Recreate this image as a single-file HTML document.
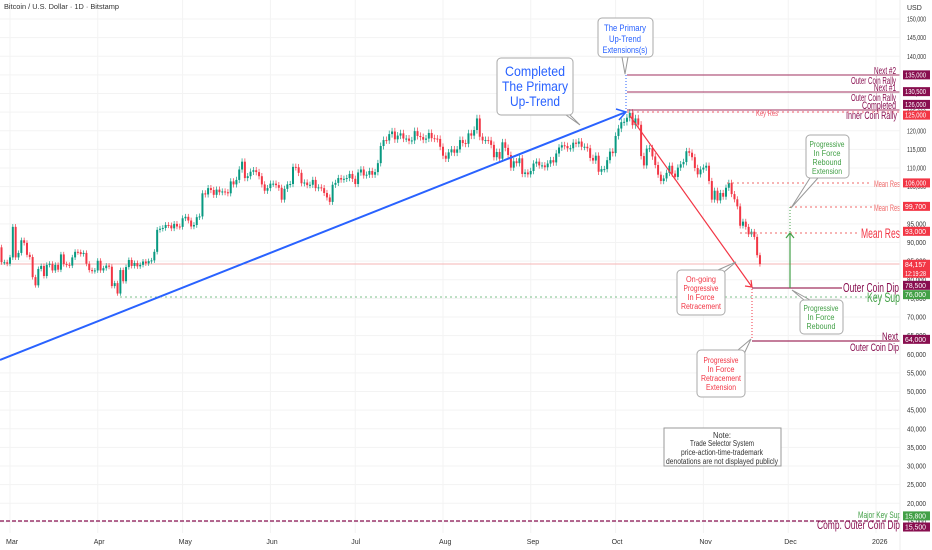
<!DOCTYPE html>
<html><head><meta charset="utf-8">
<style>
html,body{margin:0;padding:0;background:#fff;}
svg{display:block;font-family:"Liberation Sans",sans-serif;}
.ax{font-size:7px;fill:#333;}
.bx{font-size:7px;fill:#fff;}
</style></head>
<body>
<svg id="chart" width="932" height="550" viewBox="0 0 932 550" xmlns="http://www.w3.org/2000/svg">
<rect width="932" height="550" fill="#fff"/>
<g id="grid"></g>
<line x1="0" y1="264" x2="900" y2="264" stroke="#f5b5b5" stroke-width="1"/>
<line x1="120" y1="297" x2="900" y2="297" stroke="#7cc08a" stroke-width="1" stroke-dasharray="2,3"/>
<line x1="0" y1="521" x2="900" y2="521" stroke="#880e4f" stroke-width="1.2" stroke-dasharray="4,2"/>
<g id="candles"></g>

<g stroke-width="1">
<line x1="627" y1="75" x2="900" y2="75" stroke="#a0305f"/>
<line x1="627" y1="92" x2="900" y2="92" stroke="#a0305f"/>
<line x1="627" y1="110" x2="900" y2="110" stroke="#a0305f"/>
<line x1="627" y1="112" x2="900" y2="112" stroke="#ef5a6a" stroke-dasharray="2,3"/>
<line x1="727" y1="183" x2="872" y2="183" stroke="#ef6a6a" stroke-dasharray="2,3"/>
<line x1="790" y1="207" x2="872" y2="207" stroke="#ef6a6a" stroke-dasharray="2,3"/>
<line x1="740" y1="233" x2="859" y2="233" stroke="#ef6a6a" stroke-dasharray="2,3"/>
<line x1="752" y1="288" x2="842" y2="288" stroke="#a0305f" stroke-width="1.3"/>
<line x1="752" y1="341" x2="900" y2="341" stroke="#a0305f" stroke-width="1.3"/>
</g>
<g text-anchor="end" lengthAdjust="spacingAndGlyphs">
<text x="896" y="74" font-size="10" fill="#880e4f" textLength="22" lengthAdjust="spacingAndGlyphs">Next #2</text>
<text x="896" y="84" font-size="10" fill="#880e4f" textLength="45" lengthAdjust="spacingAndGlyphs">Outer Coin Rally</text>
<text x="896" y="91" font-size="10" fill="#880e4f" textLength="22" lengthAdjust="spacingAndGlyphs">Next #1</text>
<text x="896" y="101" font-size="10" fill="#880e4f" textLength="45" lengthAdjust="spacingAndGlyphs">Outer Coin Rally</text>
<text x="896" y="109" font-size="11" fill="#880e4f" textLength="34" lengthAdjust="spacingAndGlyphs">Completed</text>
<text x="897" y="119" font-size="11" fill="#880e4f" textLength="51" lengthAdjust="spacingAndGlyphs">Inner Coin Rally</text>
<text x="778" y="116" font-size="8" fill="#ef5a6a" textLength="22" lengthAdjust="spacingAndGlyphs">Key Res</text>
<text x="900" y="187" font-size="9" fill="#ef6a6a" textLength="26" lengthAdjust="spacingAndGlyphs">Mean Res</text>
<text x="900" y="211" font-size="9" fill="#ef6a6a" textLength="26" lengthAdjust="spacingAndGlyphs">Mean Res</text>
<text x="900" y="238" font-size="14" fill="#f23645" textLength="39" lengthAdjust="spacingAndGlyphs">Mean Res</text>
<text x="899" y="292" font-size="13" fill="#880e4f" textLength="56" lengthAdjust="spacingAndGlyphs">Outer Coin Dip</text>
<text x="900" y="302" font-size="14" fill="#43a047" textLength="33" lengthAdjust="spacingAndGlyphs">Key Sup</text>
<text x="898" y="340" font-size="11" fill="#880e4f" textLength="16" lengthAdjust="spacingAndGlyphs">Next</text>
<text x="899" y="351" font-size="11" fill="#880e4f" textLength="49" lengthAdjust="spacingAndGlyphs">Outer Coin Dip</text>
<text x="901" y="518" font-size="9" fill="#43a047" textLength="43" lengthAdjust="spacingAndGlyphs">Major Key Sup</text>
<text x="900" y="529" font-size="12" fill="#880e4f" textLength="83" lengthAdjust="spacingAndGlyphs">Comp. Outer Coin Dip</text>
</g>

<g>
<line x1="0" y1="360" x2="626" y2="112" stroke="#2962ff" stroke-width="2"/>
<polyline points="616,109 626,112 619,120" fill="none" stroke="#2962ff" stroke-width="1.5"/>
<line x1="626" y1="75" x2="626" y2="110" stroke="#2962ff" stroke-width="1" stroke-dasharray="1,2"/>
</g>
<g>
<line x1="630" y1="116" x2="752" y2="287" stroke="#f23645" stroke-width="1.2"/>
<polyline points="745,286 752,287 751,280" fill="none" stroke="#f23645" stroke-width="1.2"/>
<line x1="752" y1="289" x2="752" y2="340" stroke="#f23645" stroke-width="1" stroke-dasharray="1,2"/>
</g>
<g>
<line x1="790" y1="288" x2="790" y2="233" stroke="#43a047" stroke-width="1.2"/>
<polyline points="786,238 790,233 794,238" fill="none" stroke="#43a047" stroke-width="1.2"/>
<line x1="790" y1="232" x2="790" y2="207" stroke="#43a047" stroke-width="1" stroke-dasharray="1,2"/>
</g>

<g>
<path d="M570,115 L580,125 L566,115" fill="#fff" stroke="#999"/>
<rect x="497" y="58" width="76" height="57" rx="4" fill="#fff" stroke="#aaa"/>
<text x="535" y="76" text-anchor="middle" font-size="14" fill="#2962ff" textLength="60" lengthAdjust="spacingAndGlyphs">Completed</text>
<text x="535" y="91" text-anchor="middle" font-size="14" fill="#2962ff" textLength="66" lengthAdjust="spacingAndGlyphs">The Primary</text>
<text x="535" y="106" text-anchor="middle" font-size="14" fill="#2962ff" textLength="50" lengthAdjust="spacingAndGlyphs">Up-Trend</text>
</g>
<g>
<path d="M622,57 L625,74 L628,57" fill="#fff" stroke="#999"/>
<rect x="598" y="18" width="55" height="39" rx="4" fill="#fff" stroke="#aaa"/>
<text x="625" y="31" text-anchor="middle" font-size="9" fill="#2962ff" textLength="42" lengthAdjust="spacingAndGlyphs">The Primary</text>
<text x="625" y="42" text-anchor="middle" font-size="9" fill="#2962ff" textLength="32" lengthAdjust="spacingAndGlyphs">Up-Trend</text>
<text x="625" y="53" text-anchor="middle" font-size="9" fill="#2962ff" textLength="45" lengthAdjust="spacingAndGlyphs">Extensions(s)</text>
</g>
<g>
<path d="M718,270 L736,262 L724,272" fill="#fff" stroke="#999"/>
<rect x="677" y="270" width="48" height="45" rx="4" fill="#fff" stroke="#aaa"/>
<text x="701" y="282" text-anchor="middle" font-size="8" fill="#f23645" textLength="30" lengthAdjust="spacingAndGlyphs">On-going</text>
<text x="701" y="291" text-anchor="middle" font-size="8" fill="#f23645" textLength="35" lengthAdjust="spacingAndGlyphs">Progressive</text>
<text x="701" y="300" text-anchor="middle" font-size="8" fill="#f23645" textLength="27" lengthAdjust="spacingAndGlyphs">In Force</text>
<text x="701" y="309" text-anchor="middle" font-size="8" fill="#f23645" textLength="40" lengthAdjust="spacingAndGlyphs">Retracement</text>
</g>
<g>
<path d="M738,350 L751,339 L744,354" fill="#fff" stroke="#999"/>
<rect x="697" y="350" width="48" height="47" rx="4" fill="#fff" stroke="#aaa"/>
<text x="721" y="363" text-anchor="middle" font-size="8" fill="#f23645" textLength="35" lengthAdjust="spacingAndGlyphs">Progressive</text>
<text x="721" y="372" text-anchor="middle" font-size="8" fill="#f23645" textLength="27" lengthAdjust="spacingAndGlyphs">In Force</text>
<text x="721" y="381" text-anchor="middle" font-size="8" fill="#f23645" textLength="40" lengthAdjust="spacingAndGlyphs">Retracement</text>
<text x="721" y="390" text-anchor="middle" font-size="8" fill="#f23645" textLength="30" lengthAdjust="spacingAndGlyphs">Extension</text>
</g>
<g>
<path d="M804,300 L792,290 L810,300" fill="#fff" stroke="#999"/>
<rect x="800" y="300" width="43" height="34" rx="4" fill="#fff" stroke="#aaa"/>
<text x="821" y="311" text-anchor="middle" font-size="8" fill="#43a047" textLength="35" lengthAdjust="spacingAndGlyphs">Progressive</text>
<text x="821" y="320" text-anchor="middle" font-size="8" fill="#43a047" textLength="27" lengthAdjust="spacingAndGlyphs">In Force</text>
<text x="821" y="329" text-anchor="middle" font-size="8" fill="#43a047" textLength="29" lengthAdjust="spacingAndGlyphs">Rebound</text>
</g>
<g>
<path d="M810,178 L791,208 L818,178" fill="#fff" stroke="#999"/>
<rect x="806" y="135" width="43" height="43" rx="4" fill="#fff" stroke="#aaa"/>
<text x="827" y="147" text-anchor="middle" font-size="8" fill="#43a047" textLength="35" lengthAdjust="spacingAndGlyphs">Progressive</text>
<text x="827" y="156" text-anchor="middle" font-size="8" fill="#43a047" textLength="27" lengthAdjust="spacingAndGlyphs">In Force</text>
<text x="827" y="165" text-anchor="middle" font-size="8" fill="#43a047" textLength="29" lengthAdjust="spacingAndGlyphs">Rebound</text>
<text x="827" y="174" text-anchor="middle" font-size="8" fill="#43a047" textLength="30" lengthAdjust="spacingAndGlyphs">Extension</text>
</g>
<g>
<rect x="664" y="428" width="117" height="38" fill="#fff" stroke="#999"/>
<text x="722" y="438" text-anchor="middle" font-size="8" fill="#333" textLength="18" lengthAdjust="spacingAndGlyphs">Note:</text>
<text x="722" y="446" text-anchor="middle" font-size="8" fill="#333" textLength="64" lengthAdjust="spacingAndGlyphs">Trade Selector System</text>
<text x="722" y="455" text-anchor="middle" font-size="8" fill="#333" textLength="82" lengthAdjust="spacingAndGlyphs">price-action-time-trademark</text>
<text x="722" y="464" text-anchor="middle" font-size="8" fill="#333" textLength="112" lengthAdjust="spacingAndGlyphs">denotations are not displayed publicly</text>
</g>

<rect x="900" y="0" width="32" height="550" fill="#fff"/>
<line x1="900" y1="0" x2="900" y2="550" stroke="#eee"/>
<g id="yaxis"></g>
<g id="xaxis"></g>
<text x="907" y="10" class="ax">USD</text>
<text x="4" y="9" font-size="7" fill="#333" textLength="115" lengthAdjust="spacingAndGlyphs">Bitcoin / U.S. Dollar · 1D · Bitstamp</text>
<g id="boxes"></g>
</svg>
<script>
// ---- data ----
const closes = [
91.4,88.7,84.7,84.7,84.3,
86.0,94.2,86.0,87.2,90.6,89.9,86.7,86.1,80.7,78.5,82.9,83.7,81.0,84.0,84.3,82.5,84.0,82.7,86.8,84.2,84.0,83.8,86.0,87.5,87.4,86.9,87.2,84.3,82.6,82.3,82.5,
85.1,82.5,83.1,83.8,83.5,78.3,79.1,76.3,82.6,79.6,83.4,85.3,83.7,84.5,83.6,84.0,84.9,84.4,85.0,85.2,87.5,93.4,93.7,93.9,94.7,94.6,93.8,95.0,94.3,94.2,
96.5,96.9,95.9,94.3,94.7,96.8,97.0,103.2,102.9,104.6,104.1,102.8,104.2,103.5,103.7,103.5,103.2,106.4,105.6,106.8,109.6,111.7,107.3,107.8,109.0,109.4,108.9,107.8,105.6,103.9,104.6,
105.8,105.8,105.4,104.7,101.5,104.4,105.6,105.7,110.3,110.2,108.7,105.9,106.1,105.4,105.5,106.8,104.6,104.8,104.6,103.3,102.1,100.9,105.5,106.0,107.3,106.9,107.1,107.3,108.4,107.1,
105.7,108.8,109.6,108.0,108.2,109.2,108.2,108.9,111.3,115.9,117.5,117.4,119.1,119.8,117.7,118.7,119.3,117.9,117.9,117.3,117.4,119.9,118.6,118.3,117.6,117.9,119.4,118.0,117.9,117.8,115.7,
113.3,112.5,114.2,115.0,114.1,115.0,117.5,116.7,116.5,119.3,118.7,120.2,123.3,118.4,117.4,117.5,117.4,116.2,112.9,114.3,112.5,116.9,115.4,113.5,110.1,111.8,111.3,112.6,108.4,108.8,108.3,
109.2,111.2,111.7,110.7,110.7,110.2,111.2,112.1,111.5,113.9,115.5,116.1,115.9,115.3,115.3,116.8,116.5,117.1,115.7,115.7,115.3,112.7,112.0,113.3,109.0,109.7,109.7,112.1,114.4,114.0,
118.6,120.6,122.3,122.4,123.5,124.8,121.5,123.3,121.6,113.2,110.7,115.2,115.3,113.1,110.8,108.2,106.5,107.2,108.7,110.6,108.5,107.6,110.1,111.0,111.6,114.5,114.1,112.9,110.0,108.3,109.6,
110.1,110.6,106.5,101.5,103.9,101.3,103.3,102.3,104.7,106.0,103.0,101.6,99.7,94.5,95.6,94.2,92.2,92.9,91.5,86.6,84.2
];
const firstOpen = 96.0;
const yTicks = [150,145,140,135,130,125,120,115,110,105,100,95,90,85,80,75,70,65,60,55,50,45,40,35,30,25,20,15];
const monthLabels = ["Mar","Apr","May","Jun","Jul","Aug","Sep","Oct","Nov","Dec","2026"];
const monthStartIdx = [5,36,66,97,127,158,189,219,250,280,311];
const boxLevels = [135.0,130.5,126.0,125.0,106.0,99.7,93.0,84.157,78.5,76.0,64.0,15.8,15.5];
const boxText = ["135,000","130,500","126,000","125,000","106,000","99,700","93,000","84,157","78,500","76,000","64,000","15,800","15,500"];
const boxColor = ["#880e4f","#880e4f","#880e4f","#f23645","#f23645","#f23645","#f23645","#f23645","#880e4f","#43a047","#880e4f","#43a047","#880e4f"];

// ---- scales ----
const NS="http://www.w3.org/2000/svg";
function y(v){return 19+(150-v)*3.725;}
function x(i){return 10+(i-5)*2.83;}
function mk(tag,attrs,parent){const e=document.createElementNS(NS,tag);for(const k in attrs)e.setAttribute(k,attrs[k]);parent.appendChild(e);return e;}

const grid=document.getElementById('grid');
yTicks.forEach(t=>{
  const l=mk('line',{x1:0,x2:900,y1:y(t),y2:y(t),stroke:'#f3f3f3'},grid);
  
  
});
monthStartIdx.forEach(i=>{
  const l=mk('line',{x1:x(i),x2:x(i),y1:0,y2:533,stroke:'#f3f3f3'},grid);
  
  
});

const yax=document.getElementById('yaxis');
yTicks.forEach(t=>{
  const tx=mk('text',{x:907,y:y(t)+2.5,class:'ax',textLength:19,lengthAdjust:'spacingAndGlyphs'},yax);
  tx.textContent=(t*1000).toLocaleString('en-US');
  
  
});
const xax=document.getElementById('xaxis');
monthLabels.forEach((m,k)=>{
  const tx=mk('text',{x:x(monthStartIdx[k])-4,y:544,class:'ax'},xax);
  tx.textContent=m;
  
  
});

const cg=document.getElementById('candles');
closes.forEach((c,i)=>{
  const o=i===0?firstOpen:closes[i-1];
  const up=c>=o;
  const col=up?'#089981':'#f23645';
  const hi=Math.max(o,c)*1.008, lo=Math.min(o,c)*0.992;
  const w=mk('line',{x1:x(i),x2:x(i),y1:y(hi),y2:y(lo),stroke:col,'stroke-width':0.7},cg);
  
  
  const top=y(Math.max(o,c)), h=Math.max(1,y(Math.min(o,c))-top);
  const b=mk('rect',{x:x(i)-1,y:top,width:2,height:h,fill:col},cg);
  
  
});

const bg=document.getElementById('boxes');
const boxYoff=[0,0,-4,3,0,0,0,0,0,0,0,-3,7];
boxLevels.forEach((v,k)=>{
  const yy=y(v)+boxYoff[k];
  const h=k===7?18:9;
  const r=mk('rect',{x:903,y:yy-4.5,width:27,height:h,fill:boxColor[k]},bg);
  
  
  const t=mk('text',{x:905,y:yy+2.5,class:'bx',textLength:21,lengthAdjust:'spacingAndGlyphs'},bg);
  t.textContent=boxText[k];
  
  
  if(k===7){
    const t2=mk('text',{x:905,y:yy+11.5,class:'bx',textLength:21,lengthAdjust:'spacingAndGlyphs'},bg);
    t2.textContent='12:19:28';
    
    
  }
});
</script>
</body></html>
